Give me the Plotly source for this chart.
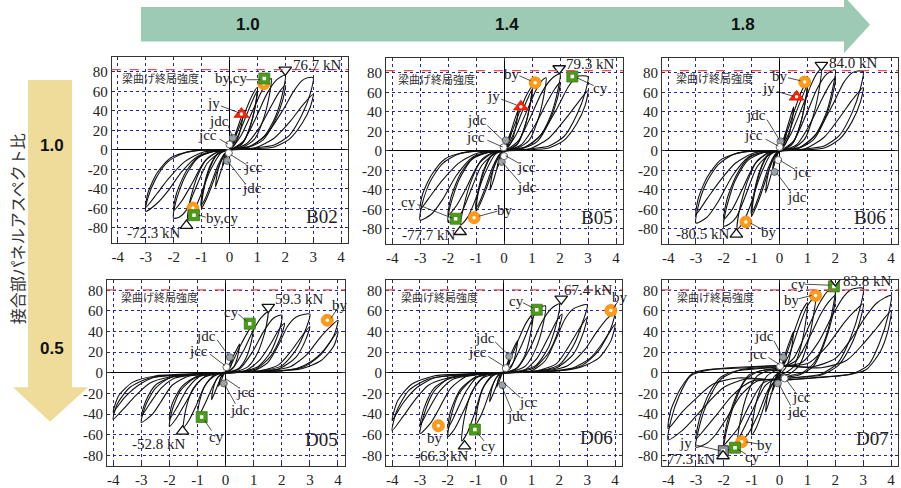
import plotly.graph_objects as go

W, H = 901, 488

# ---------------- data ----------------
PANEL_NAMES = ["B02", "B05", "B06", "D05", "D06", "D07"]
X_TICKS = [-4, -3, -2, -1, 0, 1, 2, 3, 4]
Y_TICKS = [-80, -60, -40, -20, 0, 20, 40, 60, 80]
TOP_ARROW_LABELS = ["1.0", "1.4", "1.8"]
LEFT_ARROW_LABELS = ["1.0", "0.5"]
LEFT_TITLE = "接合部パネルアスペクト比"
BEAM_LABEL = "梁曲げ終局強度"
BEAM_STRENGTH = [82.3, 82.3, 82.3, 80.5, 80.5, 80.5]
PEAK_POS = [76.7, 79.3, 84.0, 59.3, 67.4, 83.8]
PEAK_NEG = [-72.3, -77.7, -80.5, -52.8, -66.3, -77.3]

B02_LOOPS = [
    "0,0 0.12,9 0.25,19 0.2,11 0.08,3 -0.05,-2 -0.15,-10 -0.25,-17 -0.2,-9 -0.08,-2 0,0",
    "0,0 0.2,15 0.38,30 0.5,40 0.44,27 0.3,12 0.12,3 -0.05,-2 -0.25,-17 -0.4,-30 -0.5,-38 -0.44,-25 -0.28,-10 -0.1,-2 0,0",
    "0,0 0.25,16 0.55,38 0.8,55 1,64 0.94,48 0.75,25 0.5,8 0.2,2 -0.1,-2 -0.35,-15 -0.65,-38 -0.85,-52 -1,-60 -0.94,-44 -0.72,-20 -0.45,-5 -0.15,-1 0,0",
    "0,0 0.3,14 0.6,35 0.85,52 1,61 0.93,45 0.72,22 0.45,6 0.15,1 -0.15,-3 -0.4,-15 -0.7,-38 -0.9,-52 -1.02,-57 -0.95,-42 -0.72,-18 -0.42,-4 -0.1,0 0,0",
    "0,0 0.4,14 0.8,38 1.15,60 1.35,70 1.5,73 1.43,56 1.2,30 0.9,11 0.5,3 0.1,1 -0.3,-3 -0.7,-22 -1.05,-48 -1.3,-64 -1.5,-72 -1.43,-54 -1.15,-27 -0.8,-9 -0.4,-2 0,0",
    "0,0 0.5,9 0.95,33 1.35,58 1.7,72 2,76.7 1.92,60 1.65,34 1.25,14 0.75,4 0.2,1 -0.3,-2 -0.8,-14 -1.25,-42 -1.55,-62 -1.8,-69 -2,-70 -1.92,-53 -1.6,-28 -1.15,-9 -0.6,-2 0,0",
    "0,0 0.6,6 1.1,24 1.5,45 1.8,60 2,66 1.9,50 1.6,28 1.2,10 0.7,3 0.2,1 -0.4,-2 -0.9,-12 -1.35,-35 -1.7,-52 -2,-62 -1.9,-45 -1.55,-22 -1.1,-7 -0.5,-1 0,0",
    "0,0 0.7,3 1.3,15 1.9,40 2.3,60 2.6,71 2.8,74 3,74 2.9,58 2.6,36 2.15,15 1.6,5 0.9,2 0.2,1 -0.5,-1 -1.1,-6 -1.7,-22 -2.2,-42 -2.6,-55 -3,-63 -2.93,-50 -2.65,-30 -2.2,-12 -1.6,-3 -0.8,0 0,0",
    "0,0 0.9,2 1.6,12 2.2,30 2.6,45 3,57 2.9,44 2.6,27 2.15,11 1.6,3 0.8,1 0,0 -0.9,-2 -1.6,-12 -2.2,-30 -2.6,-45 -3,-59 -2.92,-44 -2.6,-24 -2.1,-8 -1.3,-1 0,0",
]
B05_LOOPS = [
    "0,0 0.12,10 0.25,20 0.2,12 0.08,3 -0.05,-2 -0.15,-10 -0.25,-18 -0.2,-10 -0.08,-2 0,0",
    "0,0 0.2,16 0.38,32 0.5,42 0.44,28 0.3,12 0.12,3 -0.05,-2 -0.25,-18 -0.4,-32 -0.5,-40 -0.44,-26 -0.28,-10 -0.1,-2 0,0",
    "0,0 0.25,17 0.55,40 0.8,57 1,66 0.94,50 0.75,26 0.5,8 0.2,2 -0.1,-2 -0.35,-16 -0.65,-40 -0.85,-54 -1,-62 -0.94,-46 -0.72,-21 -0.45,-5 -0.15,-1 0,0",
    "0,0 0.3,15 0.6,37 0.85,54 1,63 0.93,47 0.72,23 0.45,6 0.15,1 -0.15,-3 -0.4,-16 -0.7,-40 -0.9,-54 -1.02,-59 -0.95,-44 -0.72,-19 -0.42,-4 -0.1,0 0,0",
    "0,0 0.4,15 0.8,40 1.15,63 1.35,72 1.5,75 1.43,58 1.2,31 0.9,11 0.5,3 0.1,1 -0.3,-3 -0.7,-24 -1.05,-52 -1.3,-68 -1.55,-76 -1.45,-58 -1.15,-29 -0.8,-9 -0.4,-2 0,0",
    "0,0 0.5,10 0.95,35 1.35,60 1.7,74 2,79.3 1.92,62 1.65,35 1.25,14 0.75,4 0.2,1 -0.3,-2 -0.8,-15 -1.25,-45 -1.55,-65 -1.8,-72 -2,-73 -1.92,-56 -1.6,-29 -1.15,-9 -0.6,-2 0,0",
    "0,0 0.6,6 1.1,26 1.5,48 1.8,63 2,70 1.9,53 1.6,29 1.2,10 0.7,3 0.2,1 -0.4,-2 -0.9,-13 -1.35,-38 -1.7,-56 -2,-66 -1.9,-48 -1.55,-23 -1.1,-7 -0.5,-1 0,0",
    "0,0 0.7,3 1.3,16 1.9,44 2.3,66 2.6,76 2.8,77 3,76 2.9,60 2.6,37 2.15,15 1.6,5 0.9,2 0.2,1 -0.5,-1 -1.1,-6 -1.7,-25 -2.2,-50 -2.6,-65 -3,-71 -2.93,-55 -2.65,-32 -2.2,-13 -1.6,-3 -0.8,0 0,0",
    "0,0 0.9,2 1.6,13 2.2,33 2.6,48 3,62 2.9,47 2.6,28 2.15,11 1.6,3 0.8,1 0,0 -0.9,-2 -1.6,-12 -2.2,-30 -2.6,-45 -3,-60 -2.92,-45 -2.6,-25 -2.1,-8 -1.3,-1 0,0",
]
B06_LOOPS = [
    "0,0 0.12,10 0.25,21 0.2,12 0.08,3 -0.05,-2 -0.15,-10 -0.25,-19 -0.2,-10 -0.08,-2 0,0",
    "0,0 0.2,17 0.38,34 0.5,45 0.44,30 0.3,13 0.12,3 -0.05,-2 -0.25,-19 -0.4,-34 -0.5,-43 -0.44,-28 -0.28,-11 -0.1,-2 0,0",
    "0,0 0.25,18 0.55,43 0.8,62 1,71 0.94,54 0.75,28 0.5,9 0.2,2 -0.1,-2 -0.35,-17 -0.65,-43 -0.85,-58 -1,-67 -0.94,-50 -0.72,-23 -0.45,-6 -0.15,-1 0,0",
    "0,0 0.3,16 0.6,40 0.85,58 1,68 0.93,51 0.72,25 0.45,7 0.15,1 -0.15,-3 -0.4,-17 -0.7,-43 -0.9,-58 -1.02,-64 -0.95,-48 -0.72,-21 -0.42,-4 -0.1,0 0,0",
    "0,0 0.4,17 0.8,44 1.15,69 1.35,80 1.5,84 1.43,65 1.2,35 0.9,12 0.5,3 0.1,1 -0.3,-3 -0.7,-26 -1.05,-56 -1.3,-73 -1.52,-80.5 -1.45,-62 -1.15,-31 -0.8,-10 -0.4,-2 0,0",
    "0,0 0.5,10 0.95,37 1.35,64 1.7,79 2,83 1.92,66 1.65,37 1.25,15 0.75,4 0.2,1 -0.3,-2 -0.8,-16 -1.25,-48 -1.55,-68 -1.8,-75 -2,-77 -1.92,-60 -1.6,-31 -1.15,-10 -0.6,-2 0,0",
    "0,0 0.6,6 1.1,28 1.5,52 1.8,68 2,75 1.9,57 1.6,31 1.2,11 0.7,3 0.2,1 -0.4,-2 -0.9,-14 -1.35,-40 -1.7,-60 -2,-70 -1.9,-51 -1.55,-25 -1.1,-7 -0.5,-1 0,0",
    "0,0 0.7,3 1.3,17 1.9,47 2.3,70 2.6,80 2.8,82 3,81 2.9,64 2.6,39 2.15,16 1.6,5 0.9,2 0.2,1 -0.5,-1 -1.1,-6 -1.7,-26 -2.2,-52 -2.6,-68 -3,-74 -2.93,-58 -2.65,-34 -2.2,-14 -1.6,-3 -0.8,0 0,0",
    "0,0 0.9,2 1.6,14 2.2,36 2.6,52 3,65 2.9,50 2.6,30 2.15,12 1.6,3 0.8,1 0,0 -0.9,-2 -1.6,-13 -2.2,-33 -2.6,-49 -3,-65 -2.92,-49 -2.6,-27 -2.1,-9 -1.3,-1 0,0",
]
D05_LOOPS = [
    "0,0 0.12,7 0.25,14 0.18,6 0.05,1 -0.05,-1 -0.15,-7 -0.25,-13 -0.18,-5 -0.05,-1 0,0",
    "0,0 0.2,12 0.38,22 0.5,28 0.43,16 0.28,5 0.1,1 -0.1,-1 -0.25,-10 -0.4,-20 -0.5,-26 -0.43,-14 -0.27,-4 -0.1,-1 0,0",
    "0,0 0.2,8 0.5,25 0.8,40 1,48 0.93,32 0.72,14 0.45,4 0.15,1 -0.15,-1 -0.4,-10 -0.7,-28 -0.88,-38 -1,-43 -0.93,-28 -0.7,-11 -0.4,-3 -0.1,0 0,0",
    "0,0 0.3,6 0.65,22 1,42 1.25,53 1.5,59 1.42,42 1.15,20 0.8,6 0.4,1.5 0,0.5 -0.4,-2 -0.75,-13 -1.05,-32 -1.3,-46 -1.5,-53 -1.42,-36 -1.15,-15 -0.75,-4 -0.3,-1 0,0",
    "0,0 0.5,4 0.95,20 1.35,40 1.7,53 2,56 1.9,40 1.6,20 1.15,6 0.6,1.5 0,0.5 -0.6,-1.5 -1.0,-10 -1.4,-28 -1.75,-44 -2,-52 -1.9,-36 -1.6,-17 -1.1,-5 -0.5,-1 0,0",
    "0,0 0.7,2 1.2,12 1.6,28 1.9,42 2.1,48 1.95,34 1.6,16 1.1,4 0.5,1 -0.3,0 -0.9,-3 -1.35,-15 -1.7,-32 -2,-45 -1.9,-30 -1.55,-13 -1.0,-3 -0.4,-1 0,0",
    "0,0 1,2 1.5,10 1.9,28 2.2,45 2.5,54 3,57 2.85,42 2.5,22 2.0,7 1.3,2 0.5,1 -0.5,-1 -1.3,-3 -1.9,-12 -2.3,-28 -2.6,-40 -3,-48 -2.85,-32 -2.5,-15 -2.0,-5 -1.2,-1.5 0,0",
    "0,0 1.2,2 1.9,8 2.3,20 2.7,35 3,45 2.85,32 2.5,15 1.9,4 1,1.5 0,0.5 -1,-2 -1.8,-5 -2.3,-15 -2.7,-30 -3,-42 -2.85,-28 -2.5,-12 -1.9,-4 -1,-1 0,0",
    "0,0 1.5,2 2.3,6 2.9,18 3.3,32 3.7,44 4,51 3.85,36 3.4,18 2.8,6 2,2 1,1 0,0 -1,-1.5 -2,-4 -2.7,-10 -3.2,-22 -3.6,-34 -4,-45 -3.85,-30 -3.4,-14 -2.7,-5 -1.7,-2 0,0",
    "0,0 1.5,1.5 2.5,4 3.1,12 3.5,22 4,40 3.85,26 3.4,12 2.7,4 1.8,1.5 0,0 -1.5,-2 -2.5,-4 -3.1,-12 -3.6,-24 -4,-38 -3.8,-22 -3.3,-9 -2.5,-3 -1.2,-1 0,0",
]
D06_LOOPS = [
    "0,0 0.12,8 0.25,15 0.18,7 0.05,1 -0.05,-1 -0.15,-8 -0.25,-14 -0.18,-6 -0.05,-1 0,0",
    "0,0 0.2,14 0.38,25 0.5,31 0.43,18 0.28,6 0.1,1 -0.1,-1 -0.25,-12 -0.4,-22 -0.5,-28 -0.43,-16 -0.27,-5 -0.1,-1 0,0",
    "0,0 0.2,10 0.5,30 0.8,48 1.05,57 0.97,38 0.75,16 0.45,4 0.15,1 -0.15,-1 -0.4,-12 -0.7,-34 -0.88,-45 -1,-50 -0.93,-33 -0.7,-13 -0.4,-3 -0.1,0 0,0",
    "0,0 0.3,8 0.65,27 1,50 1.2,61 1.5,65 1.42,47 1.15,23 0.8,7 0.4,2 0,0.5 -0.4,-2 -0.75,-15 -1.05,-40 -1.3,-58 -1.5,-66 -1.42,-45 -1.15,-19 -0.75,-5 -0.3,-1 0,0",
    "0,0 0.5,5 0.95,24 1.35,48 1.7,62 2,67 1.9,48 1.6,24 1.15,7 0.6,2 0,0.5 -0.6,-1.5 -1.0,-12 -1.4,-35 -1.75,-54 -2,-62 -1.9,-44 -1.6,-20 -1.1,-6 -0.5,-1 0,0",
    "0,0 0.7,2 1.2,14 1.6,34 1.9,50 2.1,57 1.95,40 1.6,19 1.1,5 0.5,1 -0.3,0 -0.9,-3 -1.35,-18 -1.7,-38 -2,-54 -1.9,-37 -1.55,-16 -1.0,-4 -0.4,-1 0,0",
    "0,0 1,2 1.5,12 1.9,34 2.2,52 2.5,62 3,66 2.85,50 2.5,26 2.0,8 1.3,2 0.5,1 -0.5,-1 -1.3,-3 -1.9,-15 -2.3,-34 -2.6,-48 -3,-59 -2.85,-40 -2.5,-18 -2.0,-6 -1.2,-1.5 0,0",
    "0,0 1.2,2 1.9,9 2.3,24 2.7,42 3,54 2.85,38 2.5,18 1.9,5 1,1.5 0,0.5 -1,-2 -1.8,-6 -2.3,-18 -2.7,-36 -3,-51 -2.85,-34 -2.5,-15 -1.9,-5 -1,-1 0,0",
    "0,0 1.5,2 2.3,7 2.9,22 3.3,38 3.7,52 4,59 3.85,43 3.4,21 2.8,7 2,2 1,1 0,0 -1,-1.5 -2,-5 -2.7,-12 -3.2,-27 -3.6,-42 -4,-56 -3.85,-38 -3.4,-17 -2.7,-6 -1.7,-2 0,0",
    "0,0 1.5,1.5 2.5,5 3.1,14 3.5,27 4,47 3.85,31 3.4,14 2.7,5 1.8,1.5 0,0 -1.5,-2 -2.5,-5 -3.1,-14 -3.6,-29 -4,-46 -3.8,-27 -3.3,-11 -2.5,-3 -1.2,-1 0,0",
]
D07_LOOPS = [
    "0,0 0.12,10 0.25,20 0.18,10 0.05,2 -0.05,-2 -0.15,-10 -0.25,-18 -0.18,-9 -0.05,-1 0,0",
    "0,0 0.2,18 0.38,32 0.5,40 0.43,24 0.28,8 0.1,1 -0.1,-2 -0.25,-16 -0.4,-30 -0.5,-38 -0.43,-22 -0.27,-7 -0.1,-1 0,0",
    "0,2 0.25,18 0.55,42 0.8,60 1,68 0.94,50 0.75,24 0.5,6 0.2,0 0,-2 -0.35,-16 -0.65,-40 -0.85,-54 -1,-60 -0.94,-42 -0.72,-18 -0.45,-3 -0.15,2 0,2",
    "0,3 0.35,18 0.7,45 1.0,65 1.3,75 1.22,56 1.0,28 0.7,7 0.35,-1 0,-3 -0.4,-16 -0.8,-42 -1.15,-60 -1.5,-68 -1.42,-48 -1.15,-20 -0.8,-3 -0.4,2 0,3",
    "0,4 0.5,14 1.0,42 1.4,66 1.75,80 2,83.8 1.92,64 1.65,34 1.25,10 0.8,0 0.3,-3 0,-4 -0.5,-12 -1.0,-38 -1.4,-60 -1.7,-72 -2,-77 -1.92,-58 -1.6,-28 -1.2,-6 -0.7,2 0,4",
    "0,5 0.6,12 1.1,36 1.5,58 1.8,70 2,75 1.9,55 1.6,28 1.2,6 0.7,-2 0,-5 -0.6,-10 -1.1,-32 -1.5,-54 -1.8,-64 -2,-70 -1.9,-50 -1.55,-22 -1.1,-2 -0.5,3 0,5",
    "0,6 0.8,10 1.4,30 1.9,56 2.3,74 2.6,81 3,82 2.88,62 2.55,34 2.1,10 1.5,-1 0.8,-4 0,-6 -0.8,-8 -1.4,-22 -1.9,-44 -2.3,-60 -2.6,-68 -3,-72 -2.88,-52 -2.55,-26 -2.1,-6 -1.5,2 -0.8,4 0,6",
    "0,6 1.0,9 1.7,26 2.3,48 2.7,60 3,67 2.88,50 2.55,26 2.1,7 1.5,-2 0.8,-4 0,-6 -1.0,-8 -1.7,-22 -2.3,-42 -2.7,-55 -3,-64 -2.88,-45 -2.55,-21 -2.1,-4 -1.4,3 0,6",
    "0,7 1.2,6 2.0,14 2.6,34 3.1,55 3.5,68 4,75 3.9,56 3.6,30 3.2,8 2.6,-1 1.5,-4 0,-7 -1.2,-6 -2.0,-14 -2.6,-30 -3.1,-45 -3.5,-56 -4,-65 -3.9,-46 -3.6,-22 -3.2,-3 -2.5,3 -1.2,5 0,7",
    "0,7 1.5,5 2.4,12 3.0,28 3.5,44 4,60 3.9,42 3.6,20 3.1,3 2.4,-2 1.2,-5 0,-7 -1.5,-5 -2.4,-11 -3.0,-25 -3.5,-38 -4,-54 -3.9,-36 -3.55,-15 -3.1,0 -2.2,4 -1,6 0,7",
]
LOOPS = [B02_LOOPS, B05_LOOPS, B06_LOOPS, D05_LOOPS, D06_LOOPS, D07_LOOPS]

# characteristic points (displacement, load) per specimen
BY_PTS = [[(1.23, 67.8), (-1.31, -59.7)], [(1.11, 69.9), (-1.07, -68.5)], [(0.9, 70.6), (-1.21, -72.9)],
          [(3.62, 51.0)], [(3.85, 60.5), (-2.34, -51.2)], [(1.29, 74.9), (-1.36, -66.9)]]
CY_PTS = [[(1.25, 73.2), (-1.27, -67.0)], [(2.44, 76.3), (-1.73, -69.6)], [],
          [(0.86, 47.7), (-0.85, -42.9)], [(1.19, 61.2), (-1.03, -55.0)], [(1.95, 83.8), (-1.6, -72.6)]]
JY_PTS = [[(0.43, 36.7)], [(0.6, 45.3)], [(0.61, 55.4)], [], [], [(-2.02, -75.5)]]
JCC_PTS = [[(0.0, 5.6), (-0.02, -3.2)], [(-0.02, 3.7), (0.0, -5.4)], [(0.0, 4.0), (-0.05, -9.4)],
           [(0.03, 5.6)], [(0.08, 4.6)], [(0.02, 6.5), (0.18, -5.4)]]
JDC_PTS = [[(0.12, 12.4), (-0.08, -11.3)], [(0.06, 10.8), (-0.08, -11.4)], [(0.03, 9.8), (-0.18, -21.6)],
           [(0.15, 15.2), (-0.06, -10.3)], [(0.2, 16.1), (-0.04, -12.0)], [(0.12, 15.2), (-0.06, -10.2)]]
MAX_PTS = [(2.0, 82.0), (1.97, 84.5), (1.5, 88.0), (1.52, 63.7), (2.07, 71.7), (2.0, 89.6)]
MIN_PTS = [(-1.54, -77.6), (-1.57, -83.0), (-1.55, -85.7), (-1.53, -56.7), (-1.4, -71.0), (-2.03, -80.6)]

# ---------------- layout (pixel geometry) ----------------
DOM_X = [(111.7, 348), (386, 623), (662, 898), (107, 345), (386, 622), (662, 898)]
DOM_Y = [(58, 246), (59, 247), (59, 247), (283, 472), (283, 472), (283, 472)]
YRANGE = [(-95.5, 95), (-95.5, 95), (-95.5, 95), (-90.5, 90.5), (-90.5, 90.5), (-90.5, 90.5)]
XRANGE = (-4.22, 4.25)

# labels: (text, x, y) and leader lines (x0, y0, x1, y1) in data units
TEXTS = [
    [("jy", -0.56, 48), ("jdc", -0.36, 30), ("jcc", -0.8, 15), ("by,cy", 0.04, 74),
     ("jcc", 0.87, -18), ("jdc", 0.81, -39), ("by,cy", -0.27, -70)],
    [("jy", -0.38, 56), ("jdc", -0.98, 31.5), ("jcc", -1.01, 14.5), ("by", 0.27, 79), ("cy", 3.43, 64),
     ("jcc", 0.81, -16.5), ("jdc", 0.81, -37.5), ("cy", -3.42, -52.7), ("by", 0.03, -61)],
    [("jy", -0.38, 64), ("jdc", -0.86, 37), ("jcc", -0.92, 16.5), ("by", 0.03, 77),
     ("jcc", 0.81, -22), ("jdc", 0.63, -47.6), ("by", -0.38, -83)],
    [("jdc", -0.7, 36), ("jcc", -0.97, 21.6), ("cy", 0.21, 59), ("by", 4.07, 66),
     ("jcc", 0.71, -19), ("jdc", 0.5, -36), ("cy", -0.32, -62.4)],
    [("jdc", -0.65, 34), ("jcc", -0.93, 20), ("cy", 0.47, 69.5), ("by", 4.18, 74),
     ("jcc", 0.89, -28), ("jdc", 0.47, -42), ("by", -2.47, -63), ("cy", -0.53, -71)],
    [("jdc", -0.57, 36), ("jcc", -0.81, 18.4), ("cy", 0.68, 86.4), ("by", 0.44, 71),
     ("jcc", 0.79, -23), ("jdc", 0.62, -37.5), ("by", -0.51, -70), ("cy", -0.99, -82), ("jy", -3.36, -68)],
]
LEADERS = [
    [(-0.3, 45, 0.35, 38), (-0.05, 25, 0.1, 14), (-0.35, 11, -0.05, 6), (0.6, 72, 1.1, 72),
     (0.05, -5, 0.6, -15), (-0.05, -12, 0.55, -34), (-1.1, -67, -0.85, -69)],
    [(-0.1, 53, 0.45, 47), (-0.6, 26, -0.05, 11), (-0.6, 11, -0.05, 4), (0.55, 77, 0.95, 72),
     (2.6, 75, 3.2, 67), (0.05, -5, 0.55, -13), (-0.05, -12, 0.55, -32), (-3.1, -55, -1.85, -69),
     (-0.9, -67, -0.25, -62)],
    [(-0.1, 61, 0.5, 56), (-0.45, 32, 0.0, 11), (-0.5, 12, -0.05, 5), (0.3, 75, 0.75, 72),
     (0.03, -10, 0.55, -19), (-0.1, -23, 0.4, -42), (-1.05, -74, -0.6, -81)],
    [(-0.3, 32, 0.1, 17), (-0.55, 18, -0.02, 7), (0.45, 57, 0.75, 50), (3.95, 61, 3.75, 53),
     (0.02, -6, 0.45, -14), (-0.02, -12, 0.35, -30), (-0.75, -46, -0.5, -56)],
    [(-0.3, 30, 0.15, 18), (-0.55, 16, 0.03, 6), (0.7, 68, 1.05, 63), (4.1, 69, 3.95, 63),
     (0.02, -10, 0.6, -24), (-0.05, -14, 0.3, -37), (-0.95, -58, -0.7, -66)],
    [(-0.2, 31, 0.08, 17), (-0.4, 15, 0.0, 8), (0.9, 86, 1.8, 85), (0.7, 72, 1.15, 75),
     (0.25, -7, 0.55, -18), (0.0, -12, 0.4, -32), (-1.2, -67, -0.75, -69), (-1.5, -74, -1.2, -79),
     (-3.0, -70, -2.12, -75.5)],
]
# kN labels: positive ones left-anchored, negative ones right-anchored
POS_KN_XY = [(2.2, 87), (2.14, 89), (1.69, 90.5), (1.68, 71.4), (2.1, 80), (2.2, 88.6)]
NEG_KN_XY = [(-1.69, -85), (-1.69, -86.4), (-1.75, -85.7), (-1.38, -68.5), (-1.2, -80.6), (-2.24, -84)]
NAME_XY = [(3.31, -68), (3.31, -68), (3.25, -68), (3.42, -64.6), (3.32, -63), (3.35, -63.7)]
BEAM_LABEL_XY = [(-2.47, 74), (-2.4, 74), (-2.33, 75), (-2.34, 73.6), (-2.31, 73.6), (-2.3, 73.6)]

SERIF = "Liberation Serif, Times New Roman, serif"
JP = "Noto Sans CJK JP, sans-serif"
SANS = "Liberation Sans, Arial, sans-serif"


def parse(s):
    xs, ys = [], []
    for tok in s.split():
        a, b = tok.split(",")
        xs.append(float(a))
        ys.append(float(b))
    return xs, ys


def px2x(px):
    return px / W


def py2y(py):
    return 1 - py / H


fig = go.Figure()
shapes = []
annotations = []
layout = {}

for i in range(6):
    n = "" if i == 0 else str(i + 1)
    xa, ya = "x" + n, "y" + n
    xref_d = xa + " domain"

    common = dict(
        showgrid=True, gridcolor="#2323a6", griddash="dot", gridwidth=1,
        zeroline=True, zerolinecolor="#000", zerolinewidth=1.3,
        showline=True, linecolor="#333", linewidth=1, mirror="ticks",
        ticks="inside", ticklen=3, tickcolor="#333",
        tickfont=dict(family=SERIF, size=15, color="#222"), fixedrange=True,
    )
    layout["xaxis" + n] = dict(
        domain=[px2x(DOM_X[i][0]), px2x(DOM_X[i][1])], range=list(XRANGE), anchor=ya,
        tickvals=X_TICKS, ticktext=[str(v) for v in X_TICKS], **common)
    layout["yaxis" + n] = dict(
        domain=[py2y(DOM_Y[i][1]), py2y(DOM_Y[i][0])], range=list(YRANGE[i]), anchor=xa,
        tickvals=Y_TICKS, ticktext=[str(v) for v in Y_TICKS], **common)

    # hysteresis loops
    X, Y = [], []
    for s in LOOPS[i]:
        xs, ys = parse(s)
        X += xs + [None]
        Y += ys + [None]
    fig.add_trace(go.Scatter(x=X, y=Y, mode="lines", xaxis=xa, yaxis=ya,
                             line=dict(color="#111", width=1.1, shape="spline", smoothing=0.7),
                             hoverinfo="skip", showlegend=False))

    # beam ultimate strength line
    shapes.append(dict(type="line", xref=xref_d, yref=ya, x0=0, x1=1,
                       y0=BEAM_STRENGTH[i], y1=BEAM_STRENGTH[i],
                       line=dict(color="#e8505a", width=1.3, dash="dash"), layer="above"))

    # leader lines
    for (x0, y0, x1, y1) in LEADERS[i]:
        shapes.append(dict(type="line", xref=xa, yref=ya, x0=x0, y0=y0, x1=x1, y1=y1,
                           line=dict(color="#222", width=0.8), layer="above"))

    def add_pts(pts, symbol, color, size, lcolor, lw, dot=None, dotsym="circle"):
        if not pts:
            return
        xs = [p[0] for p in pts]
        ys = [p[1] for p in pts]
        fig.add_trace(go.Scatter(x=xs, y=ys, mode="markers", xaxis=xa, yaxis=ya,
                                 marker=dict(symbol=symbol, color=color, size=size,
                                             line=dict(color=lcolor, width=lw)),
                                 hoverinfo="skip", showlegend=False))
        if dot:
            fig.add_trace(go.Scatter(x=xs, y=ys, mode="markers", xaxis=xa, yaxis=ya,
                                     marker=dict(symbol=dotsym, color="white", size=dot,
                                                 line=dict(width=0)),
                                     hoverinfo="skip", showlegend=False))

    add_pts(JDC_PTS[i], "circle", "#9aa3a8", 7, "#555", 0.8)
    add_pts(JCC_PTS[i], "circle", "white", 7, "#666", 1)
    if i == 5:
        add_pts(JY_PTS[i], "square", "#8c9498", 10, "#333", 1, dot=3.5, dotsym="square")
    else:
        add_pts(JY_PTS[i], "triangle-up", "#ff2200", 13, "#d01800", 0.8, dot=3.5)
    add_pts(BY_PTS[i], "circle", "#ff9a1a", 12, "#f08a00", 0.8, dot=3.5)
    add_pts(CY_PTS[i], "square", "#4c9a1c", 11, "#3b7d12", 0.8, dot=3.5, dotsym="square")
    add_pts([MAX_PTS[i]], "triangle-down", "white", 11, "#111", 1.3)
    add_pts([MIN_PTS[i]], "triangle-up", "white", 11, "#111", 1.3)

    # texts
    tf = dict(family=SERIF, size=15, color="#222")
    for (t, x, y) in TEXTS[i]:
        annotations.append(dict(text=t, x=x, y=y, xref=xa, yref=ya, showarrow=False,
                                xanchor="center", yanchor="middle", font=tf))
    annotations.append(dict(text=f"{PEAK_POS[i]:.1f} kN", x=POS_KN_XY[i][0], y=POS_KN_XY[i][1],
                            xref=xa, yref=ya, showarrow=False, xanchor="left", yanchor="middle",
                            font=tf))
    annotations.append(dict(text=f"{PEAK_NEG[i]:.1f} kN", x=NEG_KN_XY[i][0], y=NEG_KN_XY[i][1],
                            xref=xa, yref=ya, showarrow=False, xanchor="right", yanchor="middle",
                            font=tf))
    annotations.append(dict(text=PANEL_NAMES[i], x=NAME_XY[i][0], y=NAME_XY[i][1],
                            xref=xa, yref=ya, showarrow=False, xanchor="center", yanchor="middle",
                            font=dict(family=SERIF, size=19, color="#222")))
    annotations.append(dict(text=BEAM_LABEL, x=BEAM_LABEL_XY[i][0], y=BEAM_LABEL_XY[i][1],
                            xref=xa, yref=ya, showarrow=False, xanchor="center", yanchor="middle",
                            font=dict(family=JP, size=11, color="#333")))


# big arrows (pixel geometry -> paper)
def path(pts):
    return "M " + " L ".join(f"{px2x(a):.5f},{py2y(b):.5f}" for a, b in pts) + " Z"


top_arrow = [(141, 7), (844, 7), (844, -4), (870, 25), (844, 54), (844, 42), (141, 42)]
left_arrow = [(28, 81), (72, 81), (72, 392), (88, 392), (50, 427), (13, 392), (28, 392)]
shapes.append(dict(type="path", xref="paper", yref="paper", path=path(top_arrow),
                   fillcolor="#9ccab5", line=dict(width=0), layer="below"))
shapes.append(dict(type="path", xref="paper", yref="paper", path=path(left_arrow),
                   fillcolor="#efdc9b", line=dict(width=0), layer="below"))

for t, px in zip(TOP_ARROW_LABELS, [248, 507, 743]):
    annotations.append(dict(text=f"<b>{t}</b>", x=px2x(px), y=py2y(25), xref="paper", yref="paper",
                            xanchor="center", yanchor="middle",
                            showarrow=False, font=dict(family=SANS, size=17, color="#111")))
for t, py in zip(LEFT_ARROW_LABELS, [147, 353]):
    annotations.append(dict(text=f"<b>{t}</b>", x=px2x(52), y=py2y(py), xref="paper", yref="paper",
                            xanchor="center", yanchor="middle",
                            showarrow=False, font=dict(family=SANS, size=17, color="#111")))
annotations.append(dict(text=LEFT_TITLE, x=px2x(17), y=py2y(232), xref="paper", yref="paper",
                        xanchor="center", yanchor="middle",
                        showarrow=False, textangle=-90,
                        font=dict(family=JP, size=16, color="#333")))

fig.update_layout(
    width=W, height=H, margin=dict(l=0, r=0, t=0, b=0),
    paper_bgcolor="white", plot_bgcolor="white",
    shapes=shapes, annotations=annotations, showlegend=False,
    **layout,
)

fig.write_html("out.html")
